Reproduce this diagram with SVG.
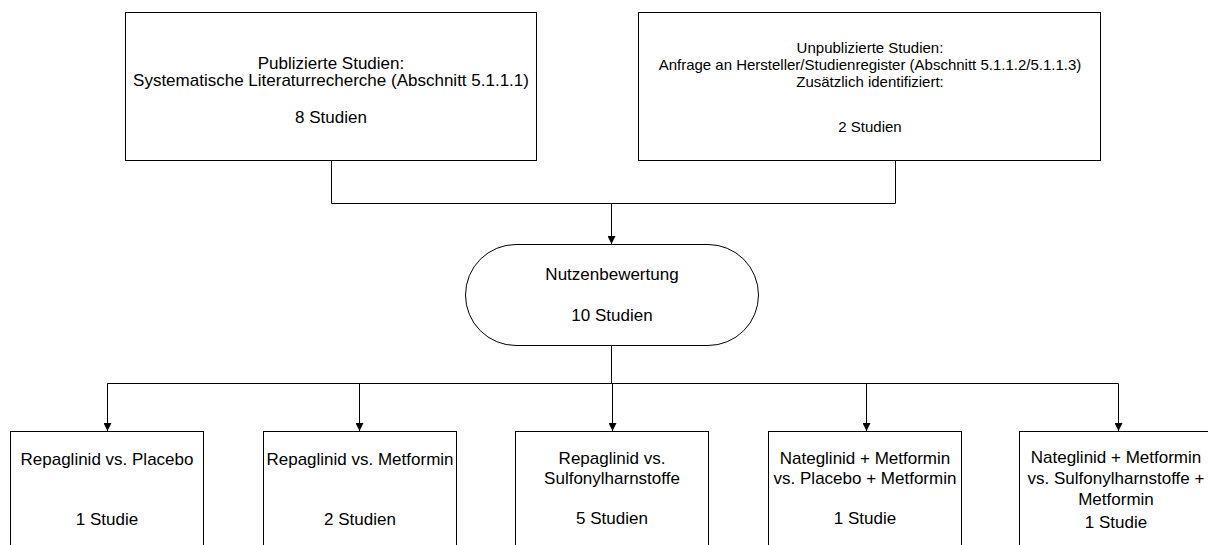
<svg xmlns="http://www.w3.org/2000/svg" width="1208" height="545" viewBox="0 0 1208 545">
<style>
.box{fill:#fff;stroke:#000;stroke-width:1}
.t{font-family:"Liberation Sans",Arial,sans-serif;font-size:17px;fill:#000;text-anchor:middle}
.s{font-size:15px}
.c{fill:none;stroke:#000;stroke-width:1}
</style>
<defs>
<marker id="ah" markerWidth="10" markerHeight="8" refX="8" refY="4" orient="auto" markerUnits="userSpaceOnUse">
<path d="M0,0 L8,4 L0,8 Z" fill="#000"/>
</marker>
</defs>
<rect width="1208" height="545" fill="#fff"/>
<g id="connectors">
<path class="c" d="M331.5,161 V203.5 H895.5 V161"/>
<path class="c" d="M611.5,203.5 V244" marker-end="url(#ah)"/>
<path class="c" d="M611.5,345 V383.5"/>
<path class="c" d="M107.5,383.5 H1118.5"/>
<path class="c" d="M107.5,383.5 V431" marker-end="url(#ah)"/>
<path class="c" d="M359.5,383.5 V431" marker-end="url(#ah)"/>
<path class="c" d="M612.5,383.5 V431" marker-end="url(#ah)"/>
<path class="c" d="M866.5,383.5 V431" marker-end="url(#ah)"/>
<path class="c" d="M1118.5,383.5 V431" marker-end="url(#ah)"/>
</g>
<g id="n1">
<rect class="box" x="125.5" y="12.5" width="411" height="148"/>
<text class="t" x="331" y="69">Publizierte Studien:</text>
<text class="t" x="331" y="86">Systematische Literaturrecherche (Abschnitt 5.1.1.1)</text>
<text class="t" x="331" y="123">8 Studien</text>
</g>
<g id="n2">
<rect class="box" x="638.5" y="12.5" width="462" height="148"/>
<text class="t s" x="870" y="53">Unpublizierte Studien:</text>
<text class="t s" x="870" y="70">Anfrage an Hersteller/Studienregister (Abschnitt 5.1.1.2/5.1.1.3)</text>
<text class="t s" x="870" y="87">Zusätzlich identifiziert:</text>
<text class="t s" x="870" y="132">2 Studien</text>
</g>
<g id="n3">
<rect class="box" x="465.5" y="244.5" width="293" height="101" rx="50.5" ry="50.5"/>
<text class="t" x="612" y="280">Nutzenbewertung</text>
<text class="t" x="612" y="321">10 Studien</text>
</g>
<g id="n4">
<rect class="box" x="10.5" y="431.5" width="193" height="130"/>
<text class="t" x="107" y="465">Repaglinid vs. Placebo</text>
<text class="t" x="107" y="525">1 Studie</text>
</g>
<g id="n5">
<rect class="box" x="263.5" y="431.5" width="193" height="130"/>
<text class="t" x="360" y="465">Repaglinid vs. Metformin</text>
<text class="t" x="360" y="525">2 Studien</text>
</g>
<g id="n6">
<rect class="box" x="515.5" y="431.5" width="193" height="130"/>
<text class="t" x="612" y="464">Repaglinid vs.</text>
<text class="t" x="612" y="484">Sulfonylharnstoffe</text>
<text class="t" x="612" y="524">5 Studien</text>
</g>
<g id="n7">
<rect class="box" x="768.5" y="431.5" width="193" height="130"/>
<text class="t" x="865" y="464">Nateglinid + Metformin</text>
<text class="t" x="865" y="484">vs. Placebo + Metformin</text>
<text class="t" x="865" y="524">1 Studie</text>
</g>
<g id="n8">
<rect class="box" x="1019.5" y="431.5" width="193" height="130"/>
<text class="t" x="1116" y="463">Nateglinid + Metformin</text>
<text class="t" x="1116" y="484">vs. Sulfonylharnstoffe +</text>
<text class="t" x="1116" y="505">Metformin</text>
<text class="t" x="1116" y="528">1 Studie</text>
</g>
</svg>
